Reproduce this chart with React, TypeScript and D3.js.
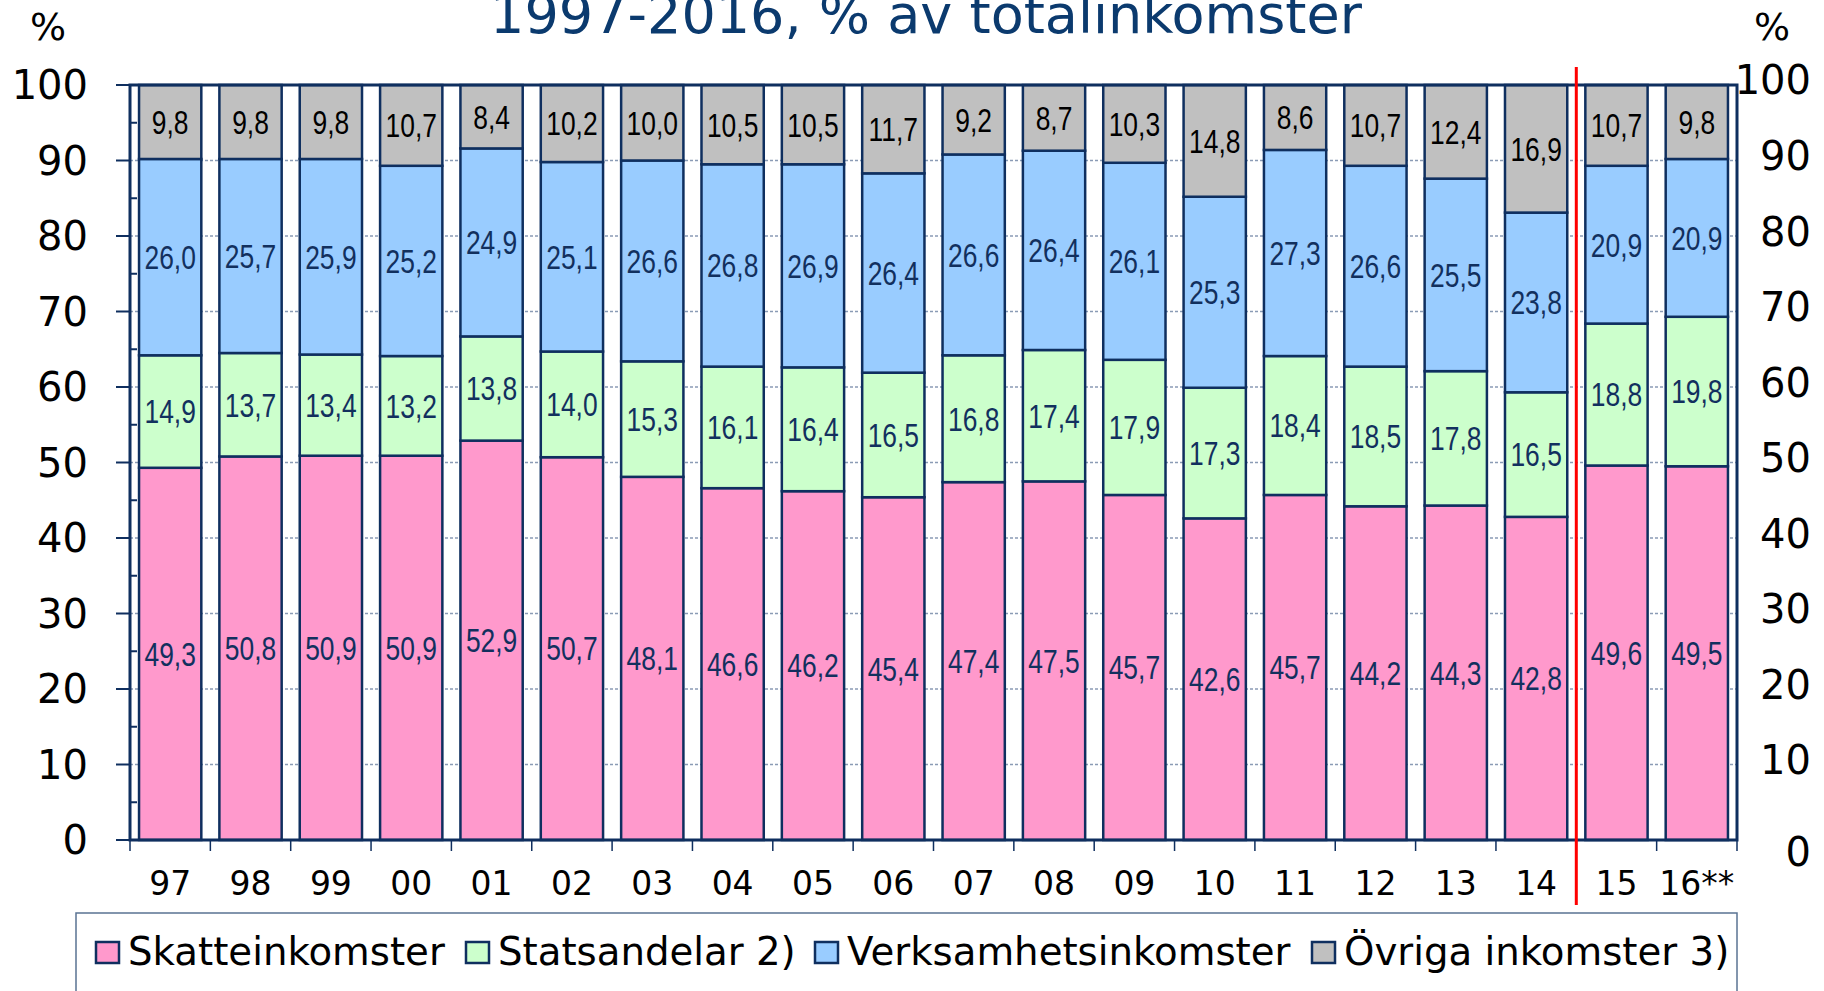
import React from "react";
import * as d3 from "d3";

const categories = ["97","98","99","00","01","02","03","04","05","06","07","08","09","10","11","12","13","14","15","16**"];
const skatteinkomster = [49.3,50.8,50.9,50.9,52.9,50.7,48.1,46.6,46.2,45.4,47.4,47.5,45.7,42.6,45.7,44.2,44.3,42.8,49.6,49.5];
const statsandelar = [14.9,13.7,13.4,13.2,13.8,14.0,15.3,16.1,16.4,16.5,16.8,17.4,17.9,17.3,18.4,18.5,17.8,16.5,18.8,19.8];
const verksamhetsinkomster = [26.0,25.7,25.9,25.2,24.9,25.1,26.6,26.8,26.9,26.4,26.6,26.4,26.1,25.3,27.3,26.6,25.5,23.8,20.9,20.9];
const ovrigaInkomster = [9.8,9.8,9.8,10.7,8.4,10.2,10.0,10.5,10.5,11.7,9.2,8.7,10.3,14.8,8.6,10.7,12.4,16.9,10.7,9.8];
const seriesNames = ["Skatteinkomster","Statsandelar 2)","Verksamhetsinkomster","Övriga inkomster 3)"];
const seriesKeys = ["skatt","stats","verks","ovriga"];
const yTicks = [0,10,20,30,40,50,60,70,80,90,100];
const titleText = "1997-2016, % av totalinkomster";

const colors = ["#FF99CC","#CCFFCC","#99CCFF","#C0C0C0"];
const labelColors = ["#12305e","#12305e","#12305e","#000000"];
const navy = "#0f2f5f";

export default function App() {
  React.useEffect(() => { document.body.style.margin = "0"; }, []);
  const W = 1824, H = 991;
  const left = 130, right = 1737, top = 85, bottom = 840;

  const table = categories.map((c, i) => ({
    cat: c,
    skatt: skatteinkomster[i],
    stats: statsandelar[i],
    verks: verksamhetsinkomster[i],
    ovriga: ovrigaInkomster[i],
  }));
  const stacked = d3.stack<any>().keys(seriesKeys)(table);

  const x = d3.scaleBand().domain(categories).range([left, right]).paddingInner(0.225).paddingOuter(0.1125);
  const y = d3.scaleLinear().domain([0, 100]).range([bottom, top]);
  const yRight = d3.scaleLinear().domain([10, 100]).range([760, 80]);
  const step = x.step();
  const boundaries = d3.range(categories.length + 1).map(i => left + i * step);
  const minorTicks = d3.range(5, 100, 10);
  const redX = left + categories.indexOf("15") * step;

  const legendTextX = [128, 498, 847, 1344];

  return (
    <svg width={W} height={H} style={{ display: "block", position: "absolute", left: 0, top: 0, background: "#fff" }}>
      {/* title */}
      <text x={926} y={33} textAnchor="middle" fontFamily="DejaVu Sans" fontSize={54} fill="#0b3a6e">{titleText}</text>
      <text x={48} y={40} textAnchor="middle" fontFamily="DejaVu Sans" fontSize={38} fill="#000">%</text>
      <text x={1772} y={40} textAnchor="middle" fontFamily="DejaVu Sans" fontSize={38} fill="#000">%</text>

      {/* gridlines */}
      {yTicks.filter(v => v > 0 && v < 100).map(v => (
        <line key={"g" + v} x1={left} x2={right} y1={y(v)} y2={y(v)} stroke="#8a9bb5" strokeWidth={1.5} strokeDasharray="3,2" />
      ))}

      {/* bars */}
      {stacked.map((s, si) => (
        <g key={"s" + si}>
          {s.map((d, i) => (
            <rect key={i} x={x(categories[i])} y={y(d[1])} width={x.bandwidth()} height={y(d[0]) - y(d[1])}
              fill={colors[si]} stroke={navy} strokeWidth={2.5} />
          ))}
        </g>
      ))}

      {/* labels */}
      {stacked.map((s, si) => (
        <g key={"l" + si}>
          {s.map((d, i) => {
            const cx = (x(categories[i]) as number) + x.bandwidth() / 2;
            const cy = (y(d[0]) + y(d[1])) / 2;
            return (
              <text key={i} transform={`translate(${cx},${cy}) scale(0.8,1)`} textAnchor="middle" dy="0.36em"
                fontFamily="Liberation Sans, Arial, sans-serif" fontSize={33} fill={labelColors[si]}>
                {(d[1] - d[0]).toFixed(1).replace(".", ",")}
              </text>
            );
          })}
        </g>
      ))}

      {/* plot border */}
      <rect x={left} y={top} width={right - left} height={bottom - top} fill="none" stroke={navy} strokeWidth={3} />

      {/* left axis ticks */}
      {yTicks.map(v => (
        <line key={"t" + v} x1={116} x2={left} y1={y(v)} y2={y(v)} stroke={navy} strokeWidth={2} />
      ))}
      {minorTicks.map(v => (
        <line key={"m" + v} x1={left} x2={left + 7} y1={y(v)} y2={y(v)} stroke={navy} strokeWidth={2} />
      ))}
      {yTicks.map(v => (
        <text key={"yl" + v} x={88} y={y(v)} dy="0.36em" textAnchor="end" fontFamily="DejaVu Sans" fontSize={40} fill="#000">{v}</text>
      ))}

      {/* right axis labels */}
      {yTicks.map(v => (
        <text key={"yr" + v} x={1811} y={v === 0 ? yRight(0) + 16 : yRight(v)} dy="0.36em" textAnchor="end" fontFamily="DejaVu Sans" fontSize={40} fill="#000">{v}</text>
      ))}

      {/* x axis ticks & labels */}
      {boundaries.map((bx, i) => (
        <line key={"xb" + i} x1={bx} x2={bx} y1={bottom} y2={bottom + 11} stroke={navy} strokeWidth={1.5} />
      ))}
      {categories.map(c => (
        <text key={"xl" + c} x={(x(c) as number) + x.bandwidth() / 2} y={895} textAnchor="middle" fontFamily="DejaVu Sans" fontSize={33} fill="#000">{c}</text>
      ))}

      {/* red divider */}
      <line x1={redX} x2={redX} y1={67} y2={905} stroke="#FF0000" strokeWidth={3} />

      {/* legend */}
      <rect x={76} y={913} width={right - 76} height={120} fill="none" stroke="#5a7393" strokeWidth={1.5} />
      {seriesNames.map((n, i) => (
        <g key={"lg" + i}>
          <rect x={legendTextX[i] - 32} y={942} width={23} height={21} fill={colors[i]} stroke={navy} strokeWidth={2.5} />
          <text x={legendTextX[i]} y={965} fontFamily="DejaVu Sans" fontSize={38.7} fill="#000">{n}</text>
        </g>
      ))}
    </svg>
  );
}
